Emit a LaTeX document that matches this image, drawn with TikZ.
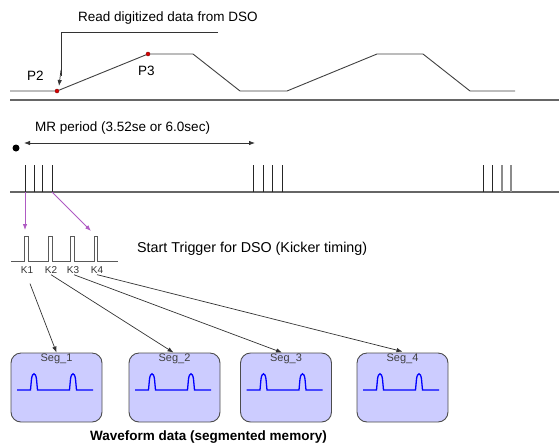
\documentclass[tikz,border=0pt]{standalone}
\usepackage{fontspec}
\setmainfont{Liberation Sans}
\usetikzlibrary{arrows.meta,calc}
\definecolor{purp}{RGB}{175,90,195}
\tikzset{
  wave/.style={draw=black!75,line width=0.9pt},
  base/.style={draw=black!60,line width=1.2pt},
  tick/.style={draw=black!85,line width=1pt},
  lbl/.style={font=\fontsize{13.5}{15}\selectfont,inner sep=0pt,anchor=west},
  klbl/.style={font=\fontsize{10}{11}\selectfont,inner sep=0pt,text=black!80},
  arr/.style={draw=black!80,line width=0.7pt,-{Latex[length=6pt,width=4.5pt]}},
  parr/.style={draw=purp,line width=0.8pt,-{Latex[length=6pt,width=4.5pt]}},
  segbox/.style={draw=black!70,line width=0.9pt,fill=blue!20,rounded corners=10pt,minimum width=91pt,minimum height=69pt,inner sep=0pt},
  seglbl/.style={font=\fontsize{11}{12}\selectfont,inner sep=0pt,text=black!75},
  pdot/.style={circle,fill=red!85!black,draw=red!50!black,inner sep=0pt,minimum size=4pt}
}
\begin{document}
\begin{tikzpicture}[x=1pt,y=-1pt]
\useasboundingbox (0,0) rectangle (559,445);
% top waveform
\node[lbl] (readtxt) at (78,18) {Read digitized data from DSO};
\coordinate (rd1) at (218,32);
\coordinate (rd2) at (61,32);
\node[pdot] (P2) at (57,91) {};
\node[pdot] (P3) at (148,54) {};
\draw[wave] (10,91) -- (P2) -- (P3) -- (193,54) -- (240,91) -- (287,91) -- (377,54) -- (423,54) -- (470,91) -- (515,91);
\draw[base] (10,100) -- (559,100);
\draw[draw=black!80,line width=0.8pt] (rd1) -- (rd2) -- (61,76);
\draw[arr] (61,70) -- ($(P2)+(2,-5)$);
\node[lbl] (p2l) at (27,76) {P2};
\node[lbl] (p3l) at (138,71) {P3};
% MR period
\node[lbl] (mrtxt) at (35,128) {MR period (3.52se or 6.0sec)};
\node[circle,fill=black,inner sep=0pt,minimum size=7pt] (start) at (16,148) {};
\coordinate (mrA) at (24,143);
\coordinate (mrB) at (255,143);
\draw[draw=black!80,line width=0.8pt,{Latex[length=6pt,width=4.5pt]}-{Latex[length=6pt,width=4.5pt]}] (mrA) -- (mrB);
\draw[base] (10,192) -- (559,192);
\foreach \x in {25,34,42,52,253,263,272,282,483,492} \draw[tick] (\x,165) -- (\x,192);
\foreach \x in {502,511} \draw[draw=black!45,line width=1.2pt] (\x,165) -- (\x,192);
% purple arrows
\coordinate (t1) at (25,192);
\coordinate (t4) at (52,192);
\coordinate (k1top) at (25,230);
\coordinate (k4top) at (91,231);
\draw[parr] (t1) -- (k1top);
\draw[parr] (t4) -- (k4top);
% trigger pulses
\draw[draw=black!65,line width=1pt] (11,261) -- (24,261) -- (24,236) -- (28,236) -- (28,261)
  -- (48,261) -- (48,236) -- (52,236) -- (52,261)
  -- (70,261) -- (70,236) -- (74,236) -- (74,261)
  -- (94,261) -- (94,236) -- (97,236) -- (97,261) -- (118,261);
\node[lbl,font=\fontsize{14.3}{16}\selectfont] (sttxt) at (137,249) {Start Trigger for DSO (Kicker timing)};
\node[klbl] (K1) at (27,270) {K1};
\node[klbl] (K2) at (51,270) {K2};
\node[klbl] (K3) at (73,270) {K3};
\node[klbl] (K4) at (97,270) {K4};
% segments
\foreach \i/\cx in {1/56.5,2/174.5,3/286,4/402.5}{
  \node[segbox] (seg\i) at (\cx,387.5) {};
  \node[seglbl] (seg\i l) at (\cx,359) {Seg\_\i};
  \draw[draw=blue,line width=1.3pt] ($(seg\i.center)+(-39.5,2.5)$) -- ++(13.5,0) -- ++(1,-11)
     .. controls ++(1,-7) and ++(-1,-7) .. ++(5,0) -- ++(1,11) -- ++(32,0) -- ++(1,-11)
     .. controls ++(1,-7) and ++(-1,-7) .. ++(5,0) -- ++(1,11) -- ++(16.5,0);
}
\draw[arr] ($(K1.south)+(3,10)$) -- (seg1.north);
\draw[arr] ($(K2.south)+(0,1)$) -- ($(seg2.north)+(-1,0)$);
\draw[arr] ($(K3.south)+(1,1)$) -- ($(seg3.north)+(-4,0)$);
\draw[arr] ($(K4.south)+(0,1)$) -- ($(seg4.north)+(0,-1)$);
\node[font=\bfseries\fontsize{13.5}{15}\selectfont,inner sep=0pt] (wftxt) at (208.5,437) {Waveform data (segmented memory)};
\end{tikzpicture}
\end{document}
